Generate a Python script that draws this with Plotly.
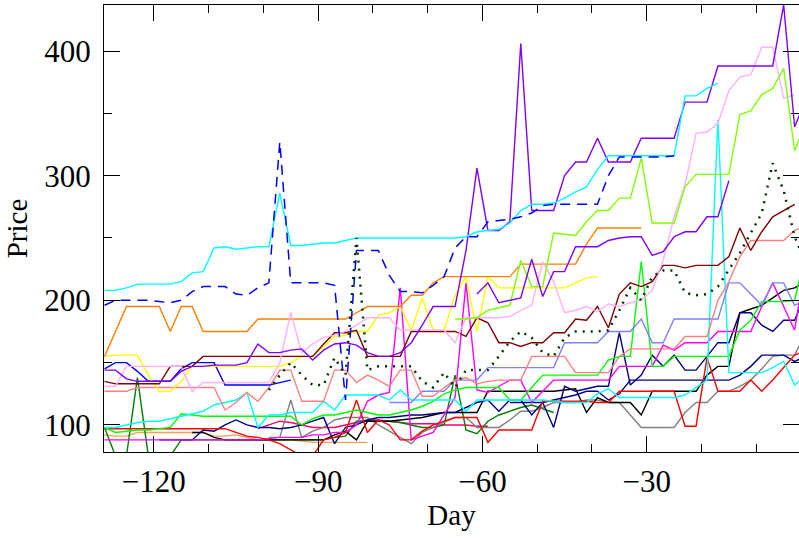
import plotly.graph_objects as go

# ---- data: each series = start day + values every 2 days ----
C1_START = -129
C1 = [208, 208, 210, 213, 213, 213, 213, 215, 222, 223, 242, 243, 241, 242, 243, 243, 286, 244, 244, 245,
      246, 246, 248, 250, 250, 250, 250, 250, 250, 250, 250, 250, 250, 251, 255, 256, 257, 262, 272, 277,
      277, 278, 282, 287, 291, 305, 316, 316, 316, 316, 316, 316, 316, 364, 364, 370, 374]
BD_START = -129
BD = [196, 200, 200, 200, 200, 199, 198, 200, 207, 211, 211, 211, 205, 204, 210, 214, 327, 214, 214, 214,
      214, 212, 120, 240, 240, 240, 220, 207, 207, 206, 212, 219, 242, 251, 251, 263, 264, 265, 267, 270,
      276, 277, 277, 277, 277, 277, 300, 315, 315, 315, 315, 315, 316]
P1_START = -129
P1 = [144, 144, 137, 135, 135, 135, 135, 143, 147, 147, 148, 148, 148, 150, 165, 158, 158, 160, 161, 152,
      160, 165, 166, 164, 158, 155, 155, 158, 166, 180, 195, 195, 195, 240, 306, 256, 256, 263, 406, 272,
      272, 272, 300, 311, 311, 330, 311, 311, 311, 330, 330, 330, 330, 359, 359, 359, 388, 388, 388, 388,
      388, 388, 437, 339, 361]
P2_START = -61
P2 = [205, 214, 198, 200, 202, 233, 203, 223, 223, 243, 243, 243, 248, 250, 251, 251, 236, 239, 251, 255,
      255, 267, 267, 296]
O1_START = -129
O1 = [155, 175, 195, 195, 195, 195, 175, 195, 195, 175, 175, 175, 175, 175, 185, 185, 185, 185, 185, 185,
      185, 185, 185, 190, 195, 195, 195, 195, 204, 204, 214, 219, 219, 219, 219, 219, 219, 219, 229, 229,
      229, 229, 229, 229, 245, 258, 258, 258, 258, 258]
Y_START = -129
Y = [155, 156, 156, 156, 140, 127, 127, 135, 147, 147, 147, 147, 147, 147, 147, 147, 147, 150, 155, 155,
     163, 171, 172, 175, 175, 188, 190, 195, 176, 202, 176, 176, 204, 219, 175, 219, 210, 210, 210, 210,
     210, 210, 210, 214, 218, 219]
LP_START = -129
LP = [131, 131, 147, 147, 147, 147, 147, 147, 127, 134, 134, 134, 134, 134, 134, 134, 150, 190, 158, 165,
      170, 172, 175, 180, 186, 186, 186, 176, 176, 176, 176, 176, 166, 186, 186, 186, 186, 187, 192, 196,
      231, 215, 190, 192, 195, 191, 197, 195, 198, 200, 208, 232, 267, 293, 334, 335, 342, 368, 379, 381,
      403, 403, 362, 365]
M_START = -129
M = [135, 133, 133, 133, 133, 133, 147, 147, 147, 155, 155, 155, 155, 155, 155, 155, 155, 155, 155, 155,
     165, 174, 174, 176, 155, 155, 155, 155, 175, 175, 175, 175, 175, 171, 186, 182, 166, 166, 163, 166,
     166, 174, 174, 185, 184, 195, 178, 205, 214, 211, 215, 228, 228, 226, 228, 228, 228, 235, 258, 240,
     255, 267, 272, 277]
DG_START = -99
DG = [128, 140, 150, 140, 132, 132, 154, 140, 250, 144, 147, 147, 147, 147, 135, 130, 142, 130, 144, 144,
      144, 155, 167, 175, 170, 158, 155, 170, 175, 175, 175, 176, 192, 210, 200, 219, 224, 224, 206, 204,
      205, 211, 224, 238, 254, 270, 310, 288, 251, 230]
LG_START = -65
LG = [185, 185, 186, 192, 194, 196, 232, 211, 211, 254, 253, 252, 263, 272, 272, 282, 282, 314, 262, 262,
      262, 291, 301, 301, 301, 301, 349, 352, 365, 370, 386, 320, 342]
S_START = -129
S = [127, 127, 127, 130, 130, 130, 130, 130, 130, 130, 130, 112, 118, 126, 119, 130, 144, 144, 119, 119,
     119, 144, 144, 134, 140, 136, 131, 144, 144, 123, 123, 130, 136, 138, 133, 135, 136, 136, 136, 155,
     155, 155, 155, 142, 142, 142, 142, 155, 161, 161, 161, 161, 161, 171, 171, 171, 200, 215, 235, 248,
     248, 248, 248, 256, 260]
LB_START = -77
LB = [118, 118, 118, 127, 127, 127, 136, 136, 136, 146, 146, 146, 146, 146, 146, 146, 166, 166, 166, 166,
      175, 175, 175, 185, 166, 166, 185, 185, 185, 185, 185, 214, 214, 205, 196, 214, 214, 196, 200]
C2_START = -129
C2 = [98, 98, 100, 102, 103, 103, 105, 107, 109, 111, 116, 118, 120, 126, 98, 108, 108, 110, 110, 110,
      119, 112, 124, 124, 124, 124, 120, 128, 120, 120, 120, 120, 120, 111, 120, 120, 120, 120, 120, 120,
      120, 119, 118, 118, 118, 125, 129, 122, 122, 122, 122, 122, 122, 124, 130, 136, 345, 142, 142, 142,
      142, 146, 151, 132, 140]
G_START = -129
G = [98, 94, 95, 96, 96, 97, 98, 109, 108, 107, 107, 107, 107, 107, 107, 107, 107, 107, 100, 105,
     108, 108, 110, 112, 110, 108, 108, 110, 112, 115, 119, 125, 128, 130, 130, 130, 130, 120, 120, 130,
     140, 140, 140, 140, 140, 140, 152, 155, 155, 231, 147, 147, 155, 155, 155, 155, 155, 155, 176, 184,
     199, 199, 199, 200, 238]
R_START = -129
R = [97, 97, 97, 97, 97, 97, 97, 97, 97, 97, 97, 97, 94, 91, 90, 88, 85, 80, 75, 75,
     88, 90, 94, 120, 94, 104, 100, 88, 88, 95, 100, 103, 106, 106, 106, 86, 96, 96, 96, 96,
     119, 119, 119, 119, 119, 118, 118, 127, 127, 127, 127, 127, 127, 99, 99, 154, 127, 127, 127, 136,
     127, 136, 146, 156, 160]
MG_START = -129
MG = [88, 88, 88, 88, 88, 88, 88, 88, 88, 88, 88, 88, 88, 88, 88, 89, 90, 90, 90, 92,
      92, 94, 94, 100, 119, 124, 126, 210, 88, 91, 94, 108, 122, 214, 128, 126, 131, 136, 136, 118,
      127, 136, 136, 136, 136, 136, 136, 147, 147, 147, 147, 164, 160, 166, 166, 166, 175, 175, 175, 175,
      195, 214, 195, 176, 230]
NV1_START = -119
NV1 = [88, 88, 88, 88, 96, 95, 100, 104, 100, 98, 98, 97, 98, 100, 103, 106, 85, 98, 100, 104,
       106, 106, 107, 108, 108, 109, 110, 110, 114, 118, 120, 111, 120, 120, 108, 118, 98, 131, 127, 129,
       131, 131, 174, 132, 140, 156, 147, 156, 144, 144, 155, 166, 166, 190, 190, 180, 175, 184, 184, 205]
NV2_START = -55
NV2 = [118, 118, 118, 118, 120, 122, 124, 127, 127, 120, 125, 136, 136, 136, 136, 136, 136, 136, 136, 136,
       136, 140, 147, 156, 156, 156, 151, 155]
K_START = -113
K = [94, 94, 90, 88, 88, 88, 88, 88, 88, 88, 88, 88, 88, 92, 95, 88, 103, 103, 103, 104,
     105, 106, 108, 110, 110, 110, 110, 127, 127, 127, 127, 127, 127, 127, 128, 129, 110, 122, 118, 118,
     118, 108, 127, 127, 127, 127, 127, 140, 147, 147, 190, 193, 196, 202, 208, 210, 215]
GY_START = -99
GY = [90, 90, 120, 90, 95, 98, 104, 106, 106, 106, 100, 95, 90, 85, 94, 98, 102, 106, 106, 98,
      98, 98, 104, 111, 111, 114, 118, 118, 118, 120, 120, 118, 118, 108, 98, 98, 98, 98, 110, 118,
      118, 127, 127, 131, 136, 145, 155, 156, 156, 174]
DK_START = -129
DK = [98, 75, 75, 138, 75, 75, 75, 88, 88, 88, 88, 88, 88, 88, 88, 88, 88, 88, 88, 88,
      88, 90, 91, 103, 103, 103, 103, 102, 100, 98, 98, 100, 140, 96, 93, 103, 108, 111, 114, 116,
      113, 110]
B_START = -129
B = [145, 150, 150, 143, 135, 135, 135, 145, 150, 150, 150, 132, 132, 132, 132, 132, 134, 136]
SB_START = -129
SB = [92, 91, 91, 94, 94, 94, 94, 94, 94, 94, 91, 91, 92, 90, 88, 88, 88, 88, 87, 86,
      86, 86, 86, 86, 86]
DP_START = -101
DP = [97, 100, 103, 102, 100, 98, 98, 98, 100, 102, 104, 104, 103, 102, 101, 101, 101, 100, 100, 100,
      99, 99]

X_TICKS = [-120, -90, -60, -30]
Y_TICKS = [100, 200, 300, 400]

SERIES = [
    (SB_START, SB, "#ffa050", None),
    (DP_START, DP, "#ff0070", None),
    (DK_START, DK, "#008000", None),
    (GY_START, GY, "#808080", None),
    (K_START, K, "#000000", None),
    (NV2_START, NV2, "#000080", None),
    (NV1_START, NV1, "#000080", None),
    (MG_START, MG, "#ff00ff", None),
    (R_START, R, "#ff0000", None),
    (G_START, G, "#00ff00", None),
    (C2_START, C2, "#00ffff", None),
    (LB_START, LB, "#8080ff", None),
    (S_START, S, "#ff8080", None),
    (B_START, B, "#0000ff", None),
    (Y_START, Y, "#ffff00", None),
    (O1_START, O1, "#ff8000", None),
    (M_START, M, "#800000", None),
    (LP_START, LP, "#ffb0ff", None),
    (LG_START, LG, "#80ff00", None),
    (P2_START, P2, "#8000ff", None),
    (P1_START, P1, "#8000ff", None),
    (C1_START, C1, "#00ffff", None),
    (BD_START, BD, "#0000ff", "10px,7px"),
    (DG_START, DG, "#003300", "2px,6px"),
]

fig = go.Figure()
for start, vals, color, dash in SERIES:
    xs = [start + 2 * i for i in range(len(vals))]
    line = dict(color=color, width=1.4)
    if dash:
        line["dash"] = dash
        line["width"] = 1.5 if dash.startswith("10") else 2.5
    fig.add_trace(go.Scatter(x=xs, y=vals, mode="lines", line=line,
                             showlegend=False, hoverinfo="skip"))

FONT = "Liberation Serif, DejaVu Serif, serif"
fig.update_layout(
    width=799, height=541,
    margin=dict(l=104, r=0, t=5, b=89, autoexpand=False),
    paper_bgcolor="white", plot_bgcolor="white",
    font=dict(family=FONT, size=31, color="black"),
)
fig.update_xaxes(
    range=[-129.1, -2.2], tickvals=X_TICKS, ticks="inside", ticklen=16, tickwidth=1,
    tickcolor="black", showline=True, linecolor="black", linewidth=1, mirror="ticks",
    showgrid=False, zeroline=False, ticklabelstandoff=2, automargin=False,
    minor=dict(dtick=10, tick0=0, ticks="inside", ticklen=8, tickcolor="black", showgrid=False),
    title=dict(text="Day", standoff=6, font=dict(size=29)),
)
fig.update_yaxes(
    range=[78.3, 436.9], tickvals=Y_TICKS, ticks="inside", ticklen=16, tickwidth=1,
    tickcolor="black", showline=True, linecolor="black", linewidth=1, mirror="ticks",
    showgrid=False, zeroline=False, ticklabelstandoff=6, automargin=False,
    minor=dict(dtick=50, tick0=0, ticks="inside", ticklen=8, tickcolor="black", showgrid=False),
    title=dict(text="Price", standoff=8, font=dict(size=29)),
)
fig.write_html("out.html", config={"displayModeBar": False},
               post_script="document.body.style.margin='0';")
